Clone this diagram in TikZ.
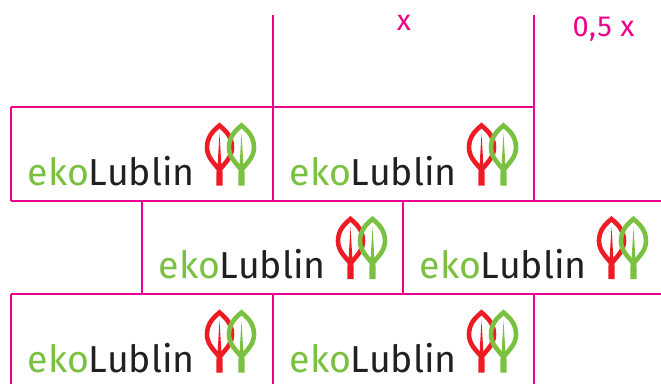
\documentclass[tikz,border=0pt]{standalone}
\usepackage{fontspec}
\setmainfont{Fira Sans}
\newfontfamily\spacedfont{Fira Sans}[LetterSpace=3]
\definecolor{mag}{RGB}{236,0,140}
\definecolor{leafred}{RGB}{237,28,36}
\definecolor{leafgreen}{RGB}{122,193,66}
\definecolor{ink}{RGB}{35,31,32}
\tikzset{
  guide/.style={draw=mag,line width=2.5pt},
  leafline/.style={line width=4.6pt,line join=miter},
  wordmark/.style={anchor=base west,inner sep=0pt,font=\fontsize{37.5}{37.5}\selectfont},
  dimtext/.style={text=mag,inner sep=0pt,anchor=base,font=\spacedfont\fontsize{29}{29}\selectfont},
  pics/leaf/.style={code={
    \draw[leafline,draw=#1] (0,-60) .. controls (-6,-55) and (-12.5,-49) .. (-12.5,-38)
      .. controls (-12.5,-28) and (-5,-22) .. (0,-15.5)
      .. controls (5,-22) and (12.5,-28) .. (12.5,-38)
      .. controls (12.5,-49) and (6,-55) .. (0,-60) -- cycle;
    \fill[#1] (0,-52) -- (1.8,-22) -- (3.2,-12) -- (3.2,0) -- (-3.2,0) -- (-3.2,-12) -- (-1.8,-22) -- cycle;
  }},
  pics/logo/.style={code={
    \node[wordmark] at (16.5,0) {\textcolor{leafgreen}{eko}\textcolor{ink}{Lublin}};
    \pic at (208.5,0.5) {leaf=leafred};
    \pic at (230.5,0.5) {leaf=leafgreen};
  }}
}
\begin{document}
\begin{tikzpicture}[x=1pt,y=-1pt]
\useasboundingbox (0,0) rectangle (661,384);
\pic at (11,185) {logo};
\pic at (273,185) {logo};
\pic at (142,278.5) {logo};
\pic at (403,278.5) {logo};
\pic at (11,372) {logo};
\pic at (273,372) {logo};
\draw[guide] (273,15) -- (273,201);
\draw[guide] (534,15) -- (534,201);
\draw[guide] (11,107) -- (534,107);
\draw[guide] (11,107) -- (11,201);
\draw[guide] (11,201) -- (661,201);
\draw[guide] (142,201) -- (142,294);
\draw[guide] (403,201) -- (403,294);
\draw[guide] (11,294) -- (661,294);
\draw[guide] (11,294) -- (11,384);
\draw[guide] (273,294) -- (273,384);
\draw[guide] (534,294) -- (534,384);
\node[dimtext] (xl) at (404,30) {x};
\node[dimtext] (hl) at (603.5,36) {0,5 x};
\end{tikzpicture}
\end{document}
